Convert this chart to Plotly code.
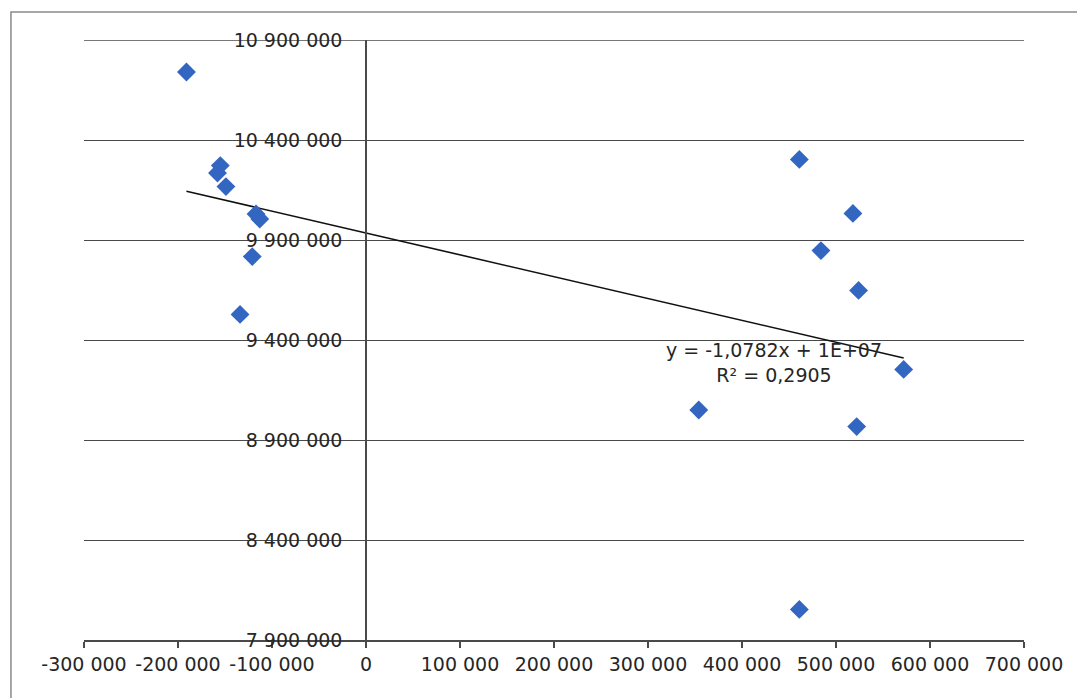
import numpy as np
import plotly.graph_objects as go

# Data
x_vals = [-191000, -155000, -158000, -149000, -117000, -113000, -121000, -134000,
          461000, 518000, 484000, 524000, 572000, 354000, 522000, 461000]
y_vals = [10740000, 10272000, 10235000, 10167000, 10030000, 10005000, 9817000, 9528000,
          10303000, 10033000, 9847000, 9648000, 9253000, 9050000, 8967000, 8053000]

x_ticks = [-300000, -200000, -100000, 0, 100000, 200000, 300000, 400000, 500000, 600000, 700000]
x_labels = ["-300 000", "-200 000", "-100 000", "0", "100 000", "200 000", "300 000",
            "400 000", "500 000", "600 000", "700 000"]
y_ticks = [7900000, 8400000, 8900000, 9400000, 9900000, 10400000, 10900000]
y_labels = ["7 900 000", "8 400 000", "8 900 000", "9 400 000", "9 900 000",
            "10 400 000", "10 900 000"]

eq_text = "y = -1,0782x + 1E+07<br>R² = 0,2905"
eq_pos = (434000, 9290000)

# Linear trendline fitted on data
slope, intercept = np.polyfit(x_vals, y_vals, 1)
tx = [min(x_vals), max(x_vals)]
ty = [slope * v + intercept for v in tx]

FONT = "DejaVu Sans"
TXT = "#262626"
GRID = "#4a4a4a"

fig = go.Figure()
fig.add_trace(go.Scatter(
    x=tx, y=ty, mode="lines",
    line=dict(color="#111111", width=1.6),
    hoverinfo="skip", showlegend=False,
))
fig.add_trace(go.Scatter(
    x=x_vals, y=y_vals, mode="markers",
    marker=dict(symbol="diamond", size=14.5, color="#3366c0", line=dict(width=0)),
    showlegend=False,
))

fig.add_annotation(
    x=eq_pos[0], y=eq_pos[1], xref="x", yref="y", text=eq_text,
    showarrow=False, align="center", font=dict(family=FONT, size=19, color=TXT),
)

# top gridline (at the range edge)
fig.add_shape(type="line", xref="x", yref="y",
              x0=x_ticks[0], x1=x_ticks[-1], y0=y_ticks[-1], y1=y_ticks[-1],
              line=dict(color=GRID, width=1.4), layer="below")

# outer chart border (partly outside the image)
fig.add_shape(type="rect", xref="paper", yref="paper",
              x0=-0.0777, x1=1.2, y0=-0.3, y1=1.0467,
              line=dict(color="#8a8a8a", width=1.5), layer="below")

fig.update_layout(
    width=1077, height=690,
    margin=dict(l=76, r=61, t=32, b=58),
    paper_bgcolor="white", plot_bgcolor="white",
    font=dict(family=FONT, size=19, color=TXT),
    xaxis=dict(
        range=[-300000, 700000], tickvals=x_ticks, ticktext=x_labels,
        showgrid=False, zeroline=False, showline=True, linecolor="#4a4a4a", linewidth=1.5,
        ticks="outside", ticklen=6, tickcolor="#4a4a4a", tickwidth=1.5,
        tickangle=0, tickfont=dict(family=FONT, size=19, color=TXT),
        anchor="y", domain=[0, 1],
    ),
    yaxis=dict(
        range=[7900000, 10900000], tickvals=y_ticks, ticktext=y_labels,
        showgrid=True, gridcolor=GRID, gridwidth=1.4,
        zeroline=False, showline=True, linecolor="#4a4a4a", linewidth=1.5,
        ticks="", ticklabelstandoff=19,
        tickfont=dict(family=FONT, size=19, color=TXT),
        anchor="free", position=0.3,
    ),
)

fig.write_html("out.html")
